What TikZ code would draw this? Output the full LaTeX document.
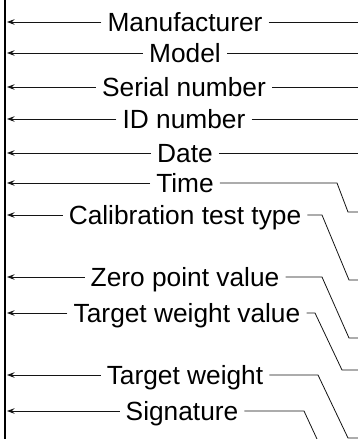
\documentclass[tikz,border=0pt]{standalone}
\usepackage{fontspec}
\setmainfont{Liberation Sans}
\usepackage{tikz}
\usetikzlibrary{arrows.meta, positioning}
\definecolor{myink}{RGB}{20,20,20}
\tikzset{
  field/.style={rectangle, inner xsep=6pt, inner ysep=0pt,
    text height=18.8pt, text depth=0pt,
    font=\fontsize{26.3}{30}\selectfont},
  arrow/.style={-{Stealth[length=7.5pt, width=5.5pt, inset=2.5pt]}, line width=0.8pt, color=myink},
  line/.style={line width=0.8pt, color=myink},
  bar/.style={line width=2.5pt, color=black}
}
\begin{document}
\begin{tikzpicture}[x=1pt, y=1pt]
  \useasboundingbox (0,0) rectangle (358,-439);

  % Frame edges
  \coordinate (bartop) at (5,0);
  \coordinate (barbot) at (5,-439);
  \coordinate (left) at (7,0);
  \coordinate (edge) at (358,0);
  \draw[bar] (bartop) -- (barbot);

  % Field labels
  \node[field] (mfr) at (185,-22) {Manufacturer};
  \node[field] (model) at (185,-53) {Model};
  \node[field] (serial) at (184,-87) {Serial number};
  \node[field] (idnum) at (184,-119) {ID number};
  \node[field] (date) at (185,-153) {Date};
  \node[field] (time) at (185,-183) {Time};
  \node[field] (caltype) at (185,-215) {Calibration test type};
  \node[field] (zero) at (185,-277) {Zero point value};
  \node[field] (tgtval) at (187,-313) {Target weight value};
  \node[field] (tgt) at (185,-375) {Target weight};
  \node[field] (sign) at (182,-411) {Signature};

  % Bend points
  \coordinate (time-a) at (337,-183);
  \coordinate (time-b) at (348,-212);
  \coordinate (caltype-a) at (322,-215);
  \coordinate (caltype-b) at (349,-280);
  \coordinate (zero-a) at (322,-277);
  \coordinate (zero-b) at (349,-338);
  \coordinate (tgtval-a) at (315,-313);
  \coordinate (tgtval-b) at (342,-370);
  \coordinate (tgt-a) at (318,-375);
  \coordinate (tgt-b) at (348,-438);
  \coordinate (sign-a) at (304,-411);
  \coordinate (sign-b) at (317,-439);

  % Arrows to the left edge
  \draw[arrow] (mfr) -- (mfr -| left);
  \draw[arrow] (model) -- (model -| left);
  \draw[arrow] (serial) -- (serial -| left);
  \draw[arrow] (idnum) -- (idnum -| left);
  \draw[arrow] (date) -- (date -| left);
  \draw[arrow] (time) -- (time -| left);
  \draw[arrow] (caltype) -- (caltype -| left);
  \draw[arrow] (zero) -- (zero -| left);
  \draw[arrow] (tgtval) -- (tgtval -| left);
  \draw[arrow] (tgt) -- (tgt -| left);
  \draw[arrow] (sign) -- (sign -| left);

  % Lines to the right edge
  \draw[line] (mfr) -- (mfr -| edge);
  \draw[line] (model) -- (model -| edge);
  \draw[line] (serial) -- (serial -| edge);
  \draw[line] (idnum) -- (idnum -| edge);
  \draw[line] (date) -- (date -| edge);
  \draw[line] (time) -- (time-a) -- (time-b) -- (time-b -| edge);
  \draw[line] (caltype) -- (caltype-a) -- (caltype-b) -- (caltype-b -| edge);
  \draw[line] (zero) -- (zero-a) -- (zero-b) -- (zero-b -| edge);
  \draw[line] (tgtval) -- (tgtval-a) -- (tgtval-b) -- (tgtval-b -| edge);
  \draw[line] (tgt) -- (tgt-a) -- (tgt-b) -- (tgt-b -| edge);
  \draw[line] (sign) -- (sign-a) -- (sign-b);
\end{tikzpicture}
\end{document}
